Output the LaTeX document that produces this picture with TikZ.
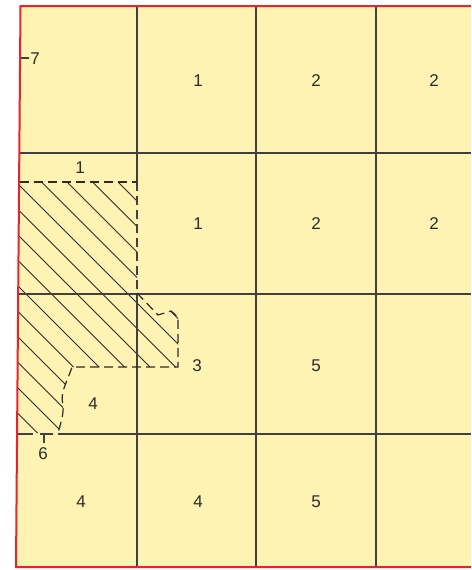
\documentclass[tikz,border=0pt]{standalone}
\usepackage{fontspec}
\setmainfont{Liberation Sans}
\definecolor{mapyellow}{HTML}{FFF3B4}
\definecolor{mapred}{HTML}{E8232B}
\definecolor{ink}{HTML}{2B2B2B}
\begin{document}
\begin{tikzpicture}[x=1pt,y=-1pt,
  lab/.style={font=\fontsize{17}{20}\selectfont, text=ink, inner sep=0pt},
  gridline/.style={draw=ink!90, line width=1.1pt},
  bnd/.style={draw=ink, line width=1.2pt, dash pattern=on 9pt off 5pt},
  hatchline/.style={draw=ink, line width=0.9pt}]
\useasboundingbox (0,0) rectangle (471,570);
\fill[mapyellow] (20.5,6) -- (471,6) -- (471,567) -- (16,567) -- cycle;
% hatching
\begin{scope}
\clip (18,182) -- (137,182) -- (137,293) -- (158,315) -- (171,311) -- (178,317) -- (178,367) -- (72,367)
  .. controls (66,385) and (60,392) .. (63,405) .. controls (64,415) and (60,425) .. (58,433) -- (18,433) -- cycle;
\foreach \c in {-64,-89.5,...,-430} \draw[hatchline] (\c+150,150) -- (\c+500,500);
\end{scope}
% grid
\draw[gridline] (137,6) -- (137,182);
\draw[gridline] (137,294) -- (137,567);
\draw[gridline, dash pattern=on 9pt off 5pt] (137,182) -- (137,294);
\draw[gridline] (256,6) -- (256,567);
\draw[gridline] (376,6) -- (376,567);
\draw[gridline] (19,153) -- (471,153);
\draw[gridline] (18,294) -- (471,294);
\draw[gridline] (58,434) -- (471,434);
\draw[gridline] (17,434) -- (33,434);
\draw[gridline] (40,434) -- (53,434);
\draw[gridline] (44,434) -- (44,443);
% hatch boundary
\draw[bnd] (20,182) -- (137,182);
\draw[bnd] (137,293) -- (158,315) -- (171,311) -- (178,317) -- (178,367) -- (72,367)
  .. controls (66,385) and (60,392) .. (63,405) .. controls (64,415) and (60,425) .. (58,433);
% tick for -7
\draw[gridline] (21,58) -- (29,58);
% red border
\draw[mapred, line width=2pt] (471,6) -- (20.5,6) -- (16,567) -- (471,567);
% labels
\node[lab] (l7) at (35,59) {7};
\node[lab] (a1) at (198,81) {1};
\node[lab] (a2) at (316,81) {2};
\node[lab] (a3) at (434,81) {2};
\node[lab] (b0) at (80,168) {1};
\node[lab] (b1) at (198,224) {1};
\node[lab] (b2) at (316,224) {2};
\node[lab] (b3) at (434,224) {2};
\node[lab] (c1) at (197,366) {3};
\node[lab] (c2) at (316,366) {5};
\node[lab] (c0) at (93,404) {4};
\node[lab] (d6) at (43,454) {6};
\node[lab] (d0) at (81,502) {4};
\node[lab] (d1) at (198,502) {4};
\node[lab] (d2) at (316,502) {5};
\end{tikzpicture}
\end{document}
